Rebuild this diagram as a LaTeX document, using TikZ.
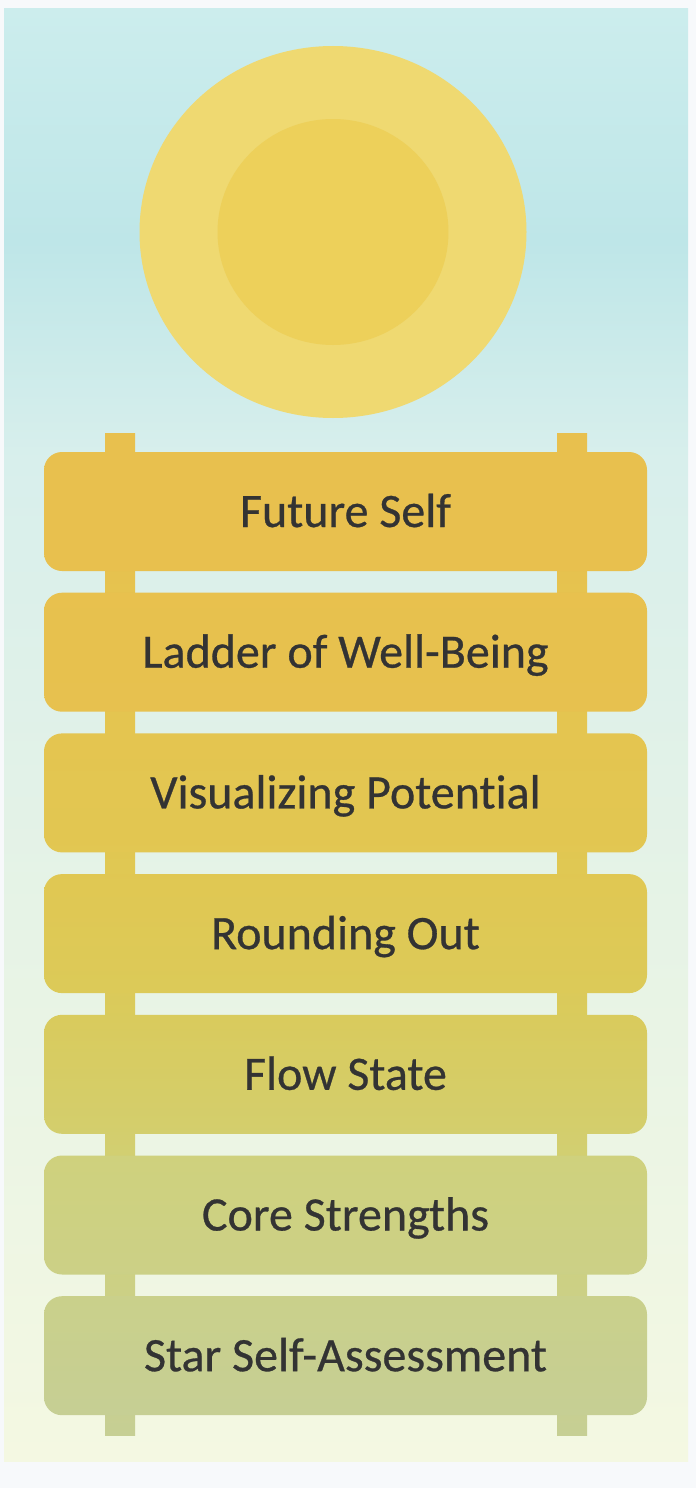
\documentclass[tikz,border=0pt]{standalone}
\usepackage{fontspec}
\setmainfont{Carlito}[Ligatures={NoCommon}, FakeBold=0.6]
\definecolor{outerbg}{HTML}{F7F9FB}
\definecolor{bgA}{HTML}{CCEDED}
\definecolor{bgB}{HTML}{BEE6E8}
\definecolor{bgC}{HTML}{D8EFEC}
\definecolor{bgD}{HTML}{E6F3E6}
\definecolor{bgE}{HTML}{F4F8E2}
\definecolor{sunouter}{HTML}{EFD971}
\definecolor{suninner}{HTML}{EDD05A}
\definecolor{pA}{HTML}{E8C04E}
\definecolor{pB}{HTML}{E4C550}
\definecolor{pC}{HTML}{DEC954}
\definecolor{pD}{HTML}{D6CC62}
\definecolor{pE}{HTML}{CFD17D}
\definecolor{pF}{HTML}{C6CF94}
\definecolor{textgray}{HTML}{333333}
% visible range of a declared shading is 25bp..75bp
\pgfdeclareverticalshading{panelbg}{100bp}{color(0bp)=(bgE); color(25bp)=(bgE); color(44bp)=(bgD); color(59.5bp)=(bgC); color(67bp)=(bgB); color(75bp)=(bgA); color(100bp)=(bgA)}
\pgfdeclareverticalshading{postshade}{100bp}{color(0bp)=(pF); color(25bp)=(pF); color(36bp)=(pE); color(43bp)=(pD); color(50bp)=(pC); color(60bp)=(pB); color(75bp)=(pA); color(100bp)=(pA)}
\tikzset{
  rung/.style={rectangle, rounded corners=18pt, minimum width=603pt, minimum height=119pt,
    inner sep=0pt, text=textgray, font=\fontsize{48}{56}\selectfont, text height=31pt, text depth=0pt},
}
\begin{document}
\begin{tikzpicture}[x=1pt,y=-1pt]
\useasboundingbox (0,0) rectangle (696,1488);
\fill[outerbg] (0,0) rectangle (696,1488);
\shade[shading=panelbg] (4,9) rectangle (688,1461);
% sun
\fill[sunouter] (333,232) ellipse [x radius=193.5pt, y radius=186pt];
\fill[suninner] (333,232) ellipse [x radius=115.5pt, y radius=113pt];
% posts
\shade[shading=postshade] (105,433) rectangle (135,1435);
\shade[shading=postshade] (557,433) rectangle (587,1435);
% rungs
\node[rung, top color=pA!100, bottom color=pA!98!pB] (r1) at (345.5,511.5) {Future Self};
\node[rung, top color=pA!90!pB, bottom color=pA!70!pB] (r2) at (345.5,652.2) {Ladder of Well-Being};
\node[rung, top color=pB, bottom color=pB!60!pC] (r3) at (345.5,792.9) {Visualizing Potential};
\node[rung, top color=pB!40!pC, bottom color=pC!70!pD] (r4) at (345.5,933.6) {Rounding Out};
\node[rung, top color=pC!40!pD, bottom color=pD!60!pE] (r5) at (345.5,1074.3) {Flow State};
\node[rung, top color=pE, bottom color=pE!60!pF] (r6) at (345.5,1215) {Core Strengths};
\node[rung, top color=pE!40!pF, bottom color=pF] (r7) at (345.5,1355.7) {Star Self-Assessment};
\end{tikzpicture}
\end{document}
